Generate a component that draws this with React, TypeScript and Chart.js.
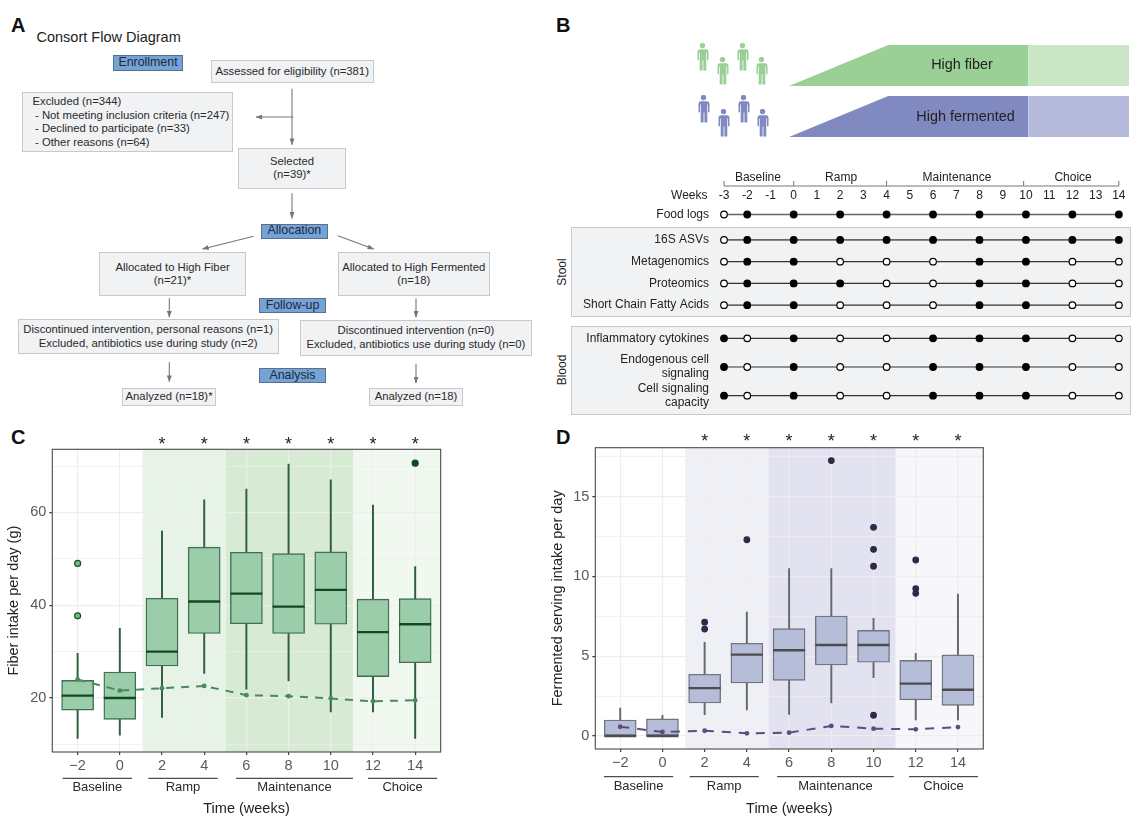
import React, { useEffect, useRef } from "react";
import { Chart, registerables } from "chart.js";

Chart.register(...registerables);
Chart.defaults.font.family = "'Liberation Sans', Arial, sans-serif";

// ---------- Panel C / D data ----------
const weeks = [-2, 0, 2, 4, 6, 8, 10, 12, 14];
const starWeeks = [2, 4, 6, 8, 10, 12, 14];
const phaseNames = ["Baseline", "Ramp", "Maintenance", "Choice"];

const fiberQ1 = [17.4, 15.4, 26.9, 33.9, 36, 33.9, 35.9, 24.6, 27.6];
const fiberQ3 = [23.8, 25.6, 41.5, 52.5, 51.4, 51.1, 51.5, 41.3, 41.4];
const fiberMedian = [20.5, 20, 30, 40.8, 42.5, 39.7, 43.3, 34.2, 35.9];
const fiberLow = [11.3, 12, 15.8, 25.3, 21.9, 23.7, 17, 17, 11.3];
const fiberHigh = [29.6, 35, 56, 62.7, 65, 70.4, 67, 61.6, 48.3];
const fiberMean = [24, 21.6, 22.1, 22.6, 20.6, 20.4, 19.9, 19.3, 19.5];
const fiberOutlierWeeks = [-2, -2, 14];
const fiberOutlierValues = [49, 37.7, 70.6];
const fiberYTicks = [10, 20, 30, 40, 50, 60, 70];
const fiberYLabels = [20, 40, 60];

const fermQ1 = [0, 0, 2.07, 3.32, 3.49, 4.45, 4.62, 2.26, 1.92];
const fermQ3 = [1.0, 1.07, 3.87, 5.81, 6.73, 7.52, 6.62, 4.74, 5.08];
const fermMedian = [0, 0, 3.0, 5.1, 5.37, 5.7, 5.7, 3.28, 2.9];
const fermLow = [0, 0, 1.34, 1.63, 1.36, 2.07, 3.66, 1.0, 1.0];
const fermHigh = [1.75, 1.3, 5.87, 7.77, 10.5, 10.5, 7.38, 5.18, 8.9];
const fermMean = [0.58, 0.25, 0.33, 0.17, 0.21, 0.63, 0.46, 0.42, 0.56];
const fermOutlierWeeks = [2, 2, 4, 8, 10, 10, 10, 10, 12, 12, 12];
const fermOutlierValues = [7.13, 6.7, 12.3, 17.26, 13.08, 11.7, 10.64, 1.3, 11.03, 9.24, 8.94];
const fermYTicks = [0, 2.5, 5, 7.5, 10, 12.5, 15, 17.5];
const fermYLabels = [0, 5, 10, 15];

const bandStarts = [1.08, 5.03, 11.05];
const bandEnds = [5.03, 11.05, 15.3];

// ---------- Panel B data ----------
const timelineWeeks = [-3, -2, 0, 2, 4, 6, 8, 10, 12, 14];
const weekTicks = [-3, -2, -1, 0, 1, 2, 3, 4, 5, 6, 7, 8, 9, 10, 11, 12, 13, 14];
const bracketWeeks = [-3, 0, 4, 9.9, 14];
const bracketLabelWeeks = [-1.54, 2.04, 7.03, 12.03];

const foodLabels = ["Food logs"];
const foodLogs = [0, 1, 1, 1, 1, 1, 1, 1, 1, 1];

const stoolLabels = ["16S ASVs", "Metagenomics", "Proteomics", "Short Chain Fatty Acids"];
const asv16s = [0, 1, 1, 1, 1, 1, 1, 1, 1, 1];
const metagenomics = [0, 1, 1, 0, 0, 0, 1, 1, 0, 0];
const proteomics = [0, 1, 1, 1, 0, 0, 1, 1, 0, 0];
const scfa = [0, 1, 1, 0, 0, 0, 1, 1, 0, 0];

const bloodLabels = [
  "Inflammatory cytokines",
  ["Endogenous cell", "signaling"],
  ["Cell signaling", "capacity"],
];
const cytokines = [1, 0, 1, 0, 0, 1, 1, 1, 0, 0];
const endogenous = [1, 0, 1, 0, 0, 1, 1, 1, 0, 0];
const capacity = [1, 0, 1, 0, 0, 1, 1, 1, 0, 0];

const rampWeeks = [-0.24, 4, 10];
const rampLevels = [0, 1, 1];
const choiceWeeks = [10, 14.29];
const choiceLevels = [1, 1];

// ---------- helpers ----------
function ChartCanvas({ config, left, top, width, height }: any) {
  const ref = useRef<HTMLCanvasElement>(null);
  useEffect(() => {
    const chart = new Chart(ref.current as HTMLCanvasElement, config);
    return () => chart.destroy();
  }, []);
  return (
    <canvas
      ref={ref}
      width={width}
      height={height}
      style={{ position: "absolute", left, top, width, height, display: "block" }}
    />
  );
}

const FONT = "'Liberation Sans', Arial, sans-serif";

function boxConfig(p: any) {
  const frame = {
    id: "frame",
    beforeDraw(chart: any) {
      const { ctx, chartArea: a, scales } = chart;
      ctx.save();
      bandStarts.forEach((s, i) => {
        const x0 = scales.x.getPixelForValue(s);
        const x1 = Math.min(scales.x.getPixelForValue(bandEnds[i]), a.right);
        ctx.fillStyle = p.bandColors[i];
        ctx.fillRect(x0, a.top, x1 - x0, a.bottom - a.top);
      });
      ctx.restore();
    },
    afterDraw(chart: any) {
      const { ctx, chartArea: a, scales } = chart;
      ctx.save();
      ctx.strokeStyle = "#4a4a4a";
      ctx.lineWidth = 1.1;
      ctx.strokeRect(a.left, a.top, a.right - a.left, a.bottom - a.top);
      // stars
      ctx.fillStyle = "#222";
      ctx.font = `18px ${FONT}`;
      ctx.textAlign = "center";
      ctx.textBaseline = "middle";
      starWeeks.forEach((w) => {
        ctx.fillText("*", scales.x.getPixelForValue(w), a.top + p.starOffset);
      });
      // phase brackets
      phaseNames.forEach((name, i) => {
        const x0 = scales.x.getPixelForValue(p.phaseStart[i]);
        const x1 = scales.x.getPixelForValue(p.phaseEnd[i]);
        ctx.strokeStyle = "#222";
        ctx.lineWidth = 1;
        ctx.beginPath();
        ctx.moveTo(x0, a.bottom + p.bracketOffset);
        ctx.lineTo(x1, a.bottom + p.bracketOffset);
        ctx.stroke();
        ctx.fillStyle = "#2a2a2a";
        ctx.font = `13px ${FONT}`;
        ctx.fillText(name, (x0 + x1) / 2, a.bottom + p.phaseLabelOffset);
      });
      ctx.restore();
    },
  };
  return {
    type: "bar",
    data: {
      datasets: [
        {
          type: "bar",
          order: 5,
          grouped: false,
          barThickness: 1.3,
          data: weeks.map((x, i) => ({ x, y: [p.low[i], p.high[i]] })),
          backgroundColor: p.whisker,
          borderWidth: 0,
        },
        {
          type: "bar",
          order: 4,
          grouped: false,
          barThickness: 32,
          data: weeks.map((x, i) => ({ x, y: [p.q1[i], p.q3[i]] })),
          backgroundColor: p.boxFill,
          borderColor: p.boxBorder,
          borderWidth: 1.4,
          borderSkipped: false,
        },
        {
          type: "scatter",
          order: 3,
          data: weeks.map((x, i) => ({ x, y: p.median[i] })),
          pointStyle: "line",
          pointRadius: 16,
          pointBorderColor: p.medianColor,
          pointBorderWidth: 2.4,
        },
        {
          type: "scatter",
          order: 2,
          data: p.outlierWeeks.map((x: number, i: number) => ({ x, y: p.outlierValues[i] })),
          pointRadius: p.outlierRadius,
          pointBackgroundColor: p.outlierFill,
          pointBorderColor: p.outlierBorder,
          pointBorderWidth: 1.2,
        },
        {
          type: "line",
          order: 1,
          data: weeks.map((x, i) => ({ x, y: p.mean[i] })),
          borderColor: p.meanColor,
          borderWidth: 2,
          borderDash: p.dash,
          pointRadius: 2.4,
          pointBackgroundColor: p.meanColor,
          pointBorderWidth: 0,
          tension: 0,
          fill: false,
        },
      ],
    },
    options: {
      responsive: false,
      animation: false,
      devicePixelRatio: 1,
      layout: { padding: p.padding, autoPadding: false },
      plugins: { legend: { display: false }, tooltip: { enabled: false } },
      scales: {
        x: {
          type: "linear",
          min: p.xMin,
          max: p.xMax,
          offset: false,
          afterBuildTicks: (s: any) => {
            s.ticks = weeks.map((value) => ({ value }));
          },
          afterFit: (s: any) => {
            s.height = p.xAxisHeight;
          },
          grid: { offset: false, color: "#eeeeee", lineWidth: 1.2, tickLength: 3, tickColor: "#444" },
          border: { display: false },
          ticks: {
            autoSkip: false,
            maxRotation: 0,
            minRotation: 0,
            padding: 2,
            color: "#5a5a5a",
            font: { size: 14.5 },
            callback: (v: number) => (v < 0 ? "\u2212" + Math.abs(v) : String(v)),
          },
          title: {
            display: true,
            text: "Time (weeks)",
            color: "#222",
            font: { size: 14.5 },
            padding: { top: 0, bottom: 7.3 },
          },
        },
        y: {
          type: "linear",
          min: p.yMin,
          max: p.yMax,
          afterBuildTicks: (s: any) => {
            s.ticks = p.yTicks.map((value: number) => ({ value }));
          },
          afterFit: (s: any) => {
            s.width = p.yAxisWidth;
          },
          grid: {
            color: "#eeeeee",
            lineWidth: (c: any) => (p.yLabels.includes(c.tick?.value) ? 1.3 : 0.8),
            tickLength: 3,
            tickColor: (c: any) => (p.yLabels.includes(c.tick?.value) ? "#444" : "rgba(0,0,0,0)"),
          },
          border: { display: false },
          ticks: {
            autoSkip: false,
            padding: 3,
            color: "#5a5a5a",
            font: { size: 14.5 },
            callback: (v: number) => (p.yLabels.includes(v) ? String(v) : ""),
          },
          title: {
            display: true,
            text: p.yTitle,
            color: "#222",
            font: { size: 14.5 },
            padding: { top: p.yTitlePad, bottom: 0 },
          },
        },
      },
    },
    plugins: [frame],
  };
}

const fiberConfig = boxConfig({
  q1: fiberQ1, q3: fiberQ3, median: fiberMedian, low: fiberLow, high: fiberHigh, mean: fiberMean,
  outlierWeeks: fiberOutlierWeeks, outlierValues: fiberOutlierValues,
  outlierRadius: 3,
  outlierFill: ["#6fbf85", "#6fbf85", "#0f4a23"],
  outlierBorder: ["#16502b", "#16502b", "#0f4a23"],
  yTicks: fiberYTicks, yLabels: fiberYLabels, yTitle: "Fiber intake per day (g)",
  xMin: -3.2, xMax: 15.21, yMin: 8.36, yMax: 73.6,
  padding: { left: 0, right: 19.3, top: 24.3, bottom: 0 },
  xAxisHeight: 73, yAxisWidth: 52.3, yTitlePad: 5.6,
  bandColors: ["#e8f3e8", "#d7ead4", "#f1f8f0"],
  whisker: "#2f5f3f", boxFill: "#9ccdaa", boxBorder: "#3f6f4f", medianColor: "#0f4a23",
  meanColor: "#4a8a5a", dash: [8, 7],
  starOffset: -4.5, bracketOffset: 26.3, phaseLabelOffset: 35.7,
  phaseStart: [-2.71, 1.35, 5.51, 11.77],
  phaseEnd: [0.58, 4.64, 11.05, 15.04],
});

const fermConfig = boxConfig({
  q1: fermQ1, q3: fermQ3, median: fermMedian, low: fermLow, high: fermHigh, mean: fermMean,
  outlierWeeks: fermOutlierWeeks, outlierValues: fermOutlierValues,
  outlierRadius: 2.8,
  outlierFill: "#2e2a4a",
  outlierBorder: "#2e2a4a",
  yTicks: fermYTicks, yLabels: fermYLabels, yTitle: "Fermented serving intake per day",
  xMin: -3.18, xMax: 15.2, yMin: -0.815, yMax: 18.07,
  padding: { left: 0, right: 16.7, top: 22.7, bottom: 0 },
  xAxisHeight: 76, yAxisWidth: 55.3, yTitlePad: 9,
  bandColors: ["#efeff6", "#e2e2f0", "#f6f6fb"],
  whisker: "#666a70", boxFill: "#b6bdd9", boxBorder: "#70757f", medianColor: "#4d4d50",
  meanColor: "#5f4a82", dash: [9, 8],
  starOffset: -5.5, bracketOffset: 27.7, phaseLabelOffset: 37.7,
  phaseStart: [-2.77, 1.29, 5.43, 11.68],
  phaseEnd: [0.51, 4.56, 10.96, 14.95],
});

function rowDataset(row: number, states: number[], lineColor: string, lineWidth: number) {
  return {
    type: "scatter",
    showLine: true,
    data: timelineWeeks.map((x) => ({ x, y: row })),
    borderColor: lineColor,
    borderWidth: lineWidth,
    pointRadius: 3.3,
    pointBorderWidth: 1.2,
    pointBorderColor: "#000",
    pointBackgroundColor: states.map((s) => (s ? "#000" : "#fff")),
  };
}

function timelineConfig(labels: any[], rows: number[][], opts: any) {
  const plugin = opts.header
    ? {
        id: "header",
        afterDraw(chart: any) {
          const { ctx, chartArea: a, scales } = chart;
          ctx.save();
          ctx.strokeStyle = "#777";
          ctx.lineWidth = 1;
          const yb = a.top - 18;
          ctx.beginPath();
          ctx.moveTo(scales.x.getPixelForValue(bracketWeeks[0]), yb);
          ctx.lineTo(scales.x.getPixelForValue(bracketWeeks[bracketWeeks.length - 1]), yb);
          bracketWeeks.forEach((w) => {
            const x = scales.x.getPixelForValue(w);
            ctx.moveTo(x, yb);
            ctx.lineTo(x, yb - 5);
          });
          ctx.stroke();
          ctx.fillStyle = "#222";
          ctx.font = `12px ${FONT}`;
          ctx.textAlign = "center";
          ctx.textBaseline = "middle";
          phaseNames.forEach((n, i) => {
            ctx.fillText(n, scales.x.getPixelForValue(bracketLabelWeeks[i]), a.top - 26.5);
          });
          ctx.textAlign = "right";
          ctx.fillText("Weeks", a.left - 8.5, a.top - 8.5);
          ctx.restore();
        },
      }
    : { id: "none" };
  const noPadding = (s: any) => {
    s.paddingTop = 0;
    s.paddingBottom = 0;
    s.paddingLeft = 0;
    s.paddingRight = 0;
  };
  return {
    type: "scatter",
    data: {
      datasets: rows.map((r, i) =>
        rowDataset(i, r, opts.thick?.includes(i) ? "#666" : "#333", opts.thick?.includes(i) ? 1.6 : 1.1)
      ),
    },
    options: {
      responsive: false,
      animation: false,
      devicePixelRatio: 1,
      layout: { padding: 0, autoPadding: false },
      plugins: { legend: { display: false }, tooltip: { enabled: false } },
      scales: {
        x: {
          type: "linear",
          position: opts.header ? "top" : "bottom",
          display: opts.header ? true : false,
          min: -3.345,
          max: 14.48,
          afterBuildTicks: (s: any) => {
            s.ticks = weekTicks.map((value) => ({ value }));
          },
          afterFit: (s: any) => {
            s.height = opts.header ? 39 : 0;
            noPadding(s);
          },
          grid: { display: false, drawTicks: false },
          border: { display: false },
          ticks: {
            autoSkip: false,
            maxRotation: 0,
            minRotation: 0,
            padding: 1.5,
            color: "#222",
            font: { size: 12 },
          },
        },
        y: {
          type: "linear",
          reverse: true,
          min: -0.5,
          max: labels.length - 0.5,
          afterBuildTicks: (s: any) => {
            s.ticks = labels.map((_, value) => ({ value }));
          },
          afterFit: (s: any) => {
            s.width = 171;
            noPadding(s);
          },
          grid: { display: false, drawTicks: false },
          border: { display: false },
          ticks: {
            autoSkip: false,
            padding: 7,
            color: "#222",
            font: { size: 12, lineHeight: 1.15 },
            callback: (v: number) => labels[v],
          },
        },
      },
    },
    plugins: [plugin],
  };
}

const foodConfig = timelineConfig(foodLabels, [foodLogs], { header: true, thick: [0] });
const stoolConfig = timelineConfig(stoolLabels, [asv16s, metagenomics, proteomics, scfa], { thick: [0] });
const bloodConfig = timelineConfig(bloodLabels, [cytokines, endogenous, capacity], {});

function bandConfig(dark: string, light: string) {
  const make = (xs: number[], ys: number[], color: string) => ({
    type: "line",
    data: xs.map((x, i) => ({ x, y: ys[i] })),
    borderWidth: 0,
    pointRadius: 0,
    backgroundColor: color,
    fill: "origin",
    tension: 0,
  });
  return {
    type: "line",
    data: { datasets: [make(rampWeeks, rampLevels, dark), make(choiceWeeks, choiceLevels, light)] },
    options: {
      responsive: false,
      animation: false,
      devicePixelRatio: 1,
      layout: { padding: 0, autoPadding: false },
      plugins: { legend: { display: false }, tooltip: { enabled: false } },
      scales: {
        x: { type: "linear", display: false, min: -0.24, max: 14.29 },
        y: { type: "linear", display: false, min: 0, max: 1 },
      },
    },
  };
}
const fiberBand = bandConfig("#9ad096", "#cbe6c6");
const fermBand = bandConfig("#8089c0", "#b6bada");

// ---------- Panel A ----------
const GREY_FILL = "#f1f2f4";

function Box({ x0, x1, y0, y1, lines, align = "center", lineYs, pad = 0, indent = [] }: any) {
  return (
    <>
      <div
        style={{
          position: "absolute",
          left: x0,
          top: y0,
          width: x1 - x0,
          height: y1 - y0,
          boxSizing: "border-box",
          background: GREY_FILL,
          border: "1.3px solid #c9c9c9",
        }}
      />
      {lines.map((t: string, i: number) => (
        <div
          key={i}
          style={{
            position: "absolute",
            left: align === "center" ? x0 : x0 + pad + (indent[i] || 0),
            width: align === "center" ? x1 - x0 : undefined,
            top: lineYs[i] - 7,
            height: 14,
            lineHeight: "14px",
            textAlign: align,
            fontSize: 11.3,
            color: "#2a2a2a",
            whiteSpace: "nowrap",
          }}
        >
          {t}
        </div>
      ))}
    </>
  );
}

function Tag({ x0, x1, y0, y1, text }: any) {
  return (
    <div
      style={{
        position: "absolute",
        left: x0,
        top: y0,
        width: x1 - x0,
        height: y1 - y0,
        boxSizing: "border-box",
        background: "#75a3d8",
        border: "1.2px solid #5a6f88",
        textAlign: "center",
        fontSize: 12.4,
        lineHeight: `${y1 - y0 - 3}px`,
        color: "#1c2a3a",
        whiteSpace: "nowrap",
      }}
    >
      {text}
    </div>
  );
}

const arrows = [
  [292, 88.7, 292, 144.7],
  [293.5, 117, 256, 117],
  [292, 193.3, 292, 218.3],
  [253.7, 236.3, 202.5, 249],
  [337.8, 235.7, 373.8, 249],
  [169.3, 298.3, 169.3, 317.3],
  [416, 298.3, 416, 317.3],
  [169.3, 362.3, 169.3, 381.7],
  [416, 363.7, 416, 383],
];

function Person({ x, y, color }: any) {
  return (
    <svg style={{ position: "absolute", left: x - 6.5, top: y }} width={13} height={28} viewBox="0 0 12 28">
      <circle cx={6} cy={2.6} r={2.7} fill={color} />
      <path
        fill={color}
        d="M2.6 6.2 h6.8 q2.3 0 2.6 2.2 v8.8 h-1.5 v-7.6 h-0.7 v18 h-2.9 v-10 h-0.8 v10 h-2.9 v-18 h-0.7 v7.6 h-1.5 v-8.8 q0.3 -2.2 2.6 -2.2 z"
      />
    </svg>
  );
}

function Letter({ x, y, t }: any) {
  return (
    <div
      style={{
        position: "absolute",
        left: x,
        top: y,
        fontSize: 20,
        lineHeight: "22px",
        fontWeight: 700,
        color: "#111",
      }}
    >
      {t}
    </div>
  );
}

function SideLabel({ cx, cy, t }: any) {
  return (
    <div
      style={{
        position: "absolute",
        left: cx - 40,
        top: cy - 8,
        width: 80,
        height: 16,
        lineHeight: "16px",
        textAlign: "center",
        fontSize: 12,
        color: "#222",
        transform: "rotate(-90deg)",
      }}
    >
      {t}
    </div>
  );
}

function Panel({ x0, x1, y0, y1 }: any) {
  return (
    <div
      style={{
        position: "absolute",
        left: x0,
        top: y0,
        width: x1 - x0,
        height: y1 - y0,
        boxSizing: "border-box",
        background: GREY_FILL,
        border: "1.3px solid #c8c8c8",
      }}
    />
  );
}

export default function App() {
  return (
    <div
      style={{
        position: "absolute",
        left: 0,
        top: 0,
        width: 1140,
        height: 825,
        overflow: "hidden",
        background: "#fff",
        fontFamily: FONT,
      }}
    >
      <Letter x={11} y={14} t="A" />
      <Letter x={556} y={14} t="B" />
      <Letter x={11} y={426} t="C" />
      <Letter x={556} y={426} t="D" />

      {/* Panel A */}
      <div style={{ position: "absolute", left: 36.5, top: 28, fontSize: 14.5, lineHeight: "18px", color: "#222" }}>
        Consort Flow Diagram
      </div>
      <svg style={{ position: "absolute", left: 0, top: 0 }} width={1140} height={825}>
        <defs>
          <marker id="ah" viewBox="0 0 8 6" refX={7.5} refY={3} markerWidth={7} markerHeight={5} orient="auto" markerUnits="userSpaceOnUse">
            <path d="M0 0 L8 3 L0 6 z" fill="#777" />
          </marker>
        </defs>
        {arrows.map((a, i) => (
          <line key={i} x1={a[0]} y1={a[1]} x2={a[2]} y2={a[3]} stroke="#777" strokeWidth={1.1} markerEnd="url(#ah)" />
        ))}
      </svg>
      <Tag x0={113} x1={183} y0={55.3} y1={70.7} text="Enrollment" />
      <Box x0={210.5} x1={373.8} y0={60.3} y1={82.7} lines={["Assessed for eligibility (n=381)"]} lineYs={[70.7]} />
      <Box
        x0={21.5}
        x1={233}
        y0={92}
        y1={152.3}
        align="left"
        pad={11}
        indent={[0, 2.5, 2.5, 2.5]}
        lines={["Excluded (n=344)", "- Not meeting inclusion criteria (n=247)", "- Declined to participate (n=33)", "- Other reasons (n=64)"]}
        lineYs={[101, 114.7, 128.3, 141.7]}
      />
      <Box x0={238} x1={346} y0={148} y1={189.3} lines={["Selected", "(n=39)*"]} lineYs={[161, 174.3]} />
      <Tag x0={261} x1={327.8} y0={224.3} y1={239} text="Allocation" />
      <Box x0={98.6} x1={246.5} y0={252.3} y1={296.3} lines={["Allocated to High Fiber", "(n=21)*"]} lineYs={[266.7, 280.3]} />
      <Box x0={337.5} x1={490} y0={252.3} y1={296.3} lines={["Allocated to High Fermented", "(n=18)"]} lineYs={[266.7, 280.3]} />
      <Tag x0={259} x1={326} y0={298} y1={313} text="Follow-up" />
      <Box
        x0={17.7}
        x1={278.6}
        y0={318.7}
        y1={354.3}
        lines={["Discontinued intervention, personal reasons (n=1)", "Excluded, antibiotics use during study (n=2)"]}
        lineYs={[329, 342.7]}
      />
      <Box
        x0={300}
        x1={531.7}
        y0={320.3}
        y1={355.7}
        lines={["Discontinued intervention (n=0)", "Excluded, antibiotics use during study (n=0)"]}
        lineYs={[330.3, 344]}
      />
      <Tag x0={259} x1={326} y0={368} y1={383.3} text="Analysis" />
      <Box x0={121.8} x1={216.3} y0={388.3} y1={405.7} lines={["Analyzed (n=18)*"]} lineYs={[396.3]} />
      <Box x0={369} x1={463} y0={388.3} y1={405.7} lines={["Analyzed (n=18)"]} lineYs={[396.3]} />

      {/* Panel B */}
      {[[702.7, 43.3], [722.3, 57.3], [742.3, 43.3], [761.5, 57.3]].map((p, i) => (
        <Person key={i} x={p[0]} y={p[1]} color="#9ad096" />
      ))}
      {[[703.8, 95.3], [723.5, 109.3], [743.5, 95.3], [762.7, 109.3]].map((p, i) => (
        <Person key={i} x={p[0]} y={p[1]} color="#8089c0" />
      ))}
      <ChartCanvas config={fiberBand} left={789} top={45} width={340} height={41} />
      <ChartCanvas config={fermBand} left={789} top={96} width={340} height={41} />
      <div style={{ position: "absolute", left: 882, width: 160, top: 55, textAlign: "center", fontSize: 14.4, lineHeight: "18px", color: "#222" }}>
        High fiber
      </div>
      <div style={{ position: "absolute", left: 885.5, width: 160, top: 107, textAlign: "center", fontSize: 14.4, lineHeight: "18px", color: "#222" }}>
        High fermented
      </div>
      <ChartCanvas config={foodConfig} left={545} top={165} width={585} height={60} />
      <Panel x0={570.8} x1={1131.5} y0={227.3} y1={316.7} />
      <Panel x0={570.8} x1={1131.5} y0={325.7} y1={414.7} />
      <SideLabel cx={561.5} cy={271.7} t="Stool" />
      <SideLabel cx={561.5} cy={370} t="Blood" />
      <ChartCanvas config={stoolConfig} left={545} top={229} width={585} height={87} />
      <ChartCanvas config={bloodConfig} left={545} top={324} width={585} height={86} />

      {/* Panels C, D */}
      <ChartCanvas config={fiberConfig} left={0} top={425} width={460} height={400} />
      <ChartCanvas config={fermConfig} left={540} top={425} width={460} height={400} />
    </div>
  );
}
